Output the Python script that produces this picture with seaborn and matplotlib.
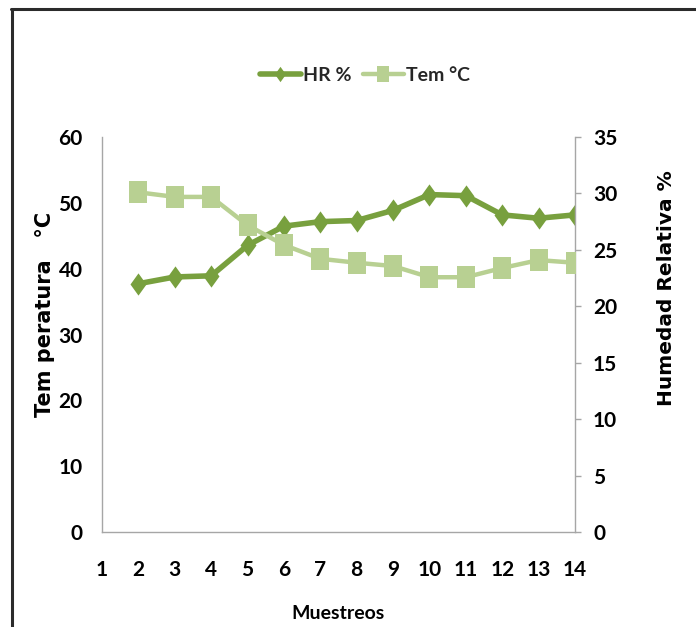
import matplotlib
matplotlib.use("Agg")
import matplotlib.pyplot as plt
from matplotlib.lines import Line2D
import seaborn as sns
import pandas as pd

# Sampling rounds and measured series
muestreos = [2, 3, 4, 5, 6, 7, 8, 9, 10, 11, 12, 13, 14]
temperatura = [51.6, 50.9, 50.9, 46.6, 43.6, 41.5, 40.9, 40.4, 38.7, 38.7, 40.1, 41.3, 40.9]
humedad = [22.0, 22.6, 22.7, 25.4, 27.1, 27.5, 27.6, 28.5, 29.9, 29.8, 28.1, 27.8, 28.1]

x_ticks = list(range(1, 15))
temp_ticks = [0, 10, 20, 30, 40, 50, 60]
hr_ticks = [0, 5, 10, 15, 20, 25, 30, 35]

df = pd.DataFrame({"Muestreos": muestreos, "Tem": temperatura, "HR": humedad})

sns.set_theme(style="white")
plt.rcParams["font.family"] = ["Lato", "DejaVu Sans"]
plt.rcParams["font.weight"] = "bold"

C_HR = "#78A03E"
C_TEM = "#B8D092"
GRID_GRAY = "#A6A6A6"

# tall diamond and tall square markers
diamond = [(0, 1), (0.72, 0), (0, -1), (-0.72, 0), (0, 1)]
square = [(-0.78, -1), (0.78, -1), (0.78, 1), (-0.78, 1), (-0.78, -1)]

fig = plt.figure(figsize=(6.96, 6.27), dpi=100)
ax = fig.add_axes([0.1466, 0.1515, 0.6795, 0.63])
ax2 = ax.twinx()

sns.lineplot(data=df, x="Muestreos", y="HR", ax=ax2, color=C_HR, linewidth=4.0,
             marker=diamond, markersize=16, markeredgewidth=0, legend=False)
sns.lineplot(data=df, x="Muestreos", y="Tem", ax=ax, color=C_TEM, linewidth=3.2,
             marker=square, markersize=16, markeredgewidth=0, legend=False)

# temperature series drawn above humidity series
ax.set_zorder(ax2.get_zorder() + 1)
ax.patch.set_visible(False)

ax.set_xlim(1, 14)
ax.set_xticks(x_ticks)
ax.set_ylim(0, 60)
ax.set_yticks(temp_ticks)
ax2.set_ylim(0, 35)
ax2.set_yticks(hr_ticks)

for a in (ax, ax2):
    for s in a.spines.values():
        s.set_visible(False)
ax.spines["left"].set_visible(True)
ax.spines["left"].set_color(GRID_GRAY)
ax.spines["left"].set_linewidth(1.0)
ax.spines["bottom"].set_visible(True)
ax.spines["bottom"].set_color(GRID_GRAY)
ax.spines["bottom"].set_linewidth(1.0)
ax2.spines["right"].set_visible(True)
ax2.spines["right"].set_color(GRID_GRAY)
ax2.spines["right"].set_linewidth(1.0)

ax.tick_params(axis="x", length=0, pad=20, labelsize=15, labelcolor="black")
ax.tick_params(axis="y", length=0, pad=14, labelsize=15, labelcolor="black")
ax2.tick_params(axis="y", length=4, width=1, color=GRID_GRAY, direction="out",
                pad=9, labelsize=15, labelcolor="black", right=True)
for lab in ax.get_xticklabels() + ax.get_yticklabels() + ax2.get_yticklabels():
    lab.set_fontweight("bold")

wide_bold = {"family": ["DejaVu Sans"], "weight": "bold", "size": 14.5}
ax.set_xlabel("Muestreos", fontsize=14, fontweight="bold", labelpad=18, color="black")
ax.set_ylabel("Tem peratura   °C", fontdict=dict(wide_bold, size=15), color="black")
ax.yaxis.set_label_coords(-0.10, 0.552)
ax2.set_ylabel("Humedad Relativa %", fontdict=wide_bold, color="black", rotation=90)
ax2.yaxis.set_label_position("right")
ax2.yaxis.set_label_coords(1.173, 0.618)

handles = [
    Line2D([], [], color=C_HR, linewidth=4.0, marker=diamond, markersize=11, markeredgewidth=0),
    Line2D([], [], color=C_TEM, linewidth=3.2, marker=square, markersize=11, markeredgewidth=0),
]
fig.legend(handles, ["HR %", "Tem °C"], loc="center", bbox_to_anchor=(0.524, 0.88),
           ncol=2, frameon=False, prop={"size": 14, "weight": "bold"},
           handlelength=2.1, handletextpad=0.1, columnspacing=0.6)

# chart border (top and left edges)
fig.add_artist(Line2D([0.016, 1.0], [0.986, 0.986], transform=fig.transFigure,
                      color="#2B2B2B", linewidth=2.2))
fig.add_artist(Line2D([0.017, 0.017], [0.0, 0.986], transform=fig.transFigure,
                      color="#2B2B2B", linewidth=2.2))

fig.savefig("out.png", dpi=100)
